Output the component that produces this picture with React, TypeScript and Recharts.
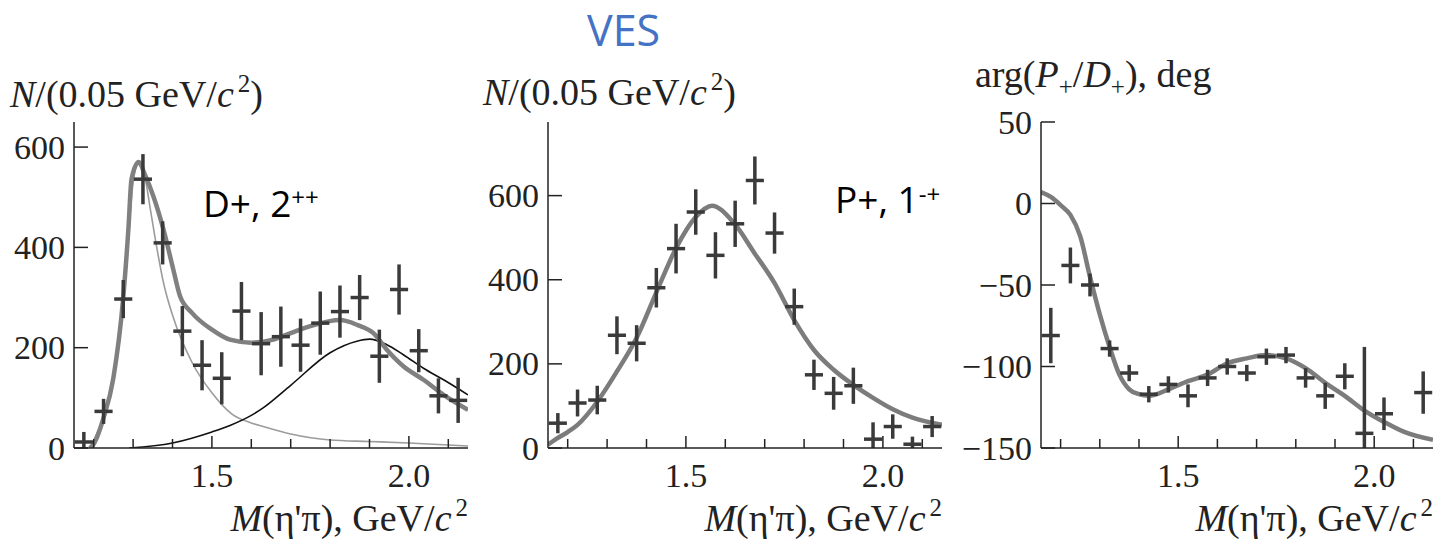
import React from 'react';
import { ComposedChart, Line, Scatter, XAxis, YAxis, ErrorBar } from 'recharts';

// ---------- shared axis values ----------
const massBins = [1.175, 1.225, 1.275, 1.325, 1.375, 1.425, 1.475, 1.525, 1.575, 1.625, 1.675, 1.725, 1.775, 1.825, 1.875, 1.925, 1.975, 2.025, 2.075, 2.125];
const massTicks = [1.2, 1.3, 1.4, 1.5, 1.6, 1.7, 1.8, 1.9, 2.0, 2.1];
const massTickLabels = [1.5, 2.0];
const countTicks = [0, 200, 400, 600];
const phaseTicks = [-150, -100, -50, 0, 50];
const binHalfWidth = 0.023;

// ---------- panel 1: D+, 2++ ----------
const dCounts = [12, 73, 297, 536, 409, 233, 165, 139, 273, 208, 222, 205, 249, 272, 300, 183, 316, 194, 104, 95];
const dErrLo = [12, 25, 38, 50, 43, 50, 50, 52, 58, 63, 60, 53, 63, 52, 45, 53, 50, 43, 35, 45];
const dErrHi = [20, 25, 38, 50, 43, 50, 50, 52, 58, 63, 60, 53, 63, 52, 45, 53, 50, 43, 35, 45];

const dFitMass = [1.19, 1.2, 1.225, 1.25, 1.275, 1.288, 1.296, 1.314, 1.33, 1.351, 1.377, 1.402, 1.419, 1.45, 1.5, 1.546, 1.6, 1.65, 1.7, 1.75, 1.825, 1.87, 1.91, 1.944, 1.986, 2.037, 2.088, 2.15];
const dFitTotal = [0, 8, 60, 140, 300, 436, 536, 570, 545, 503, 436, 356, 303, 269, 236, 216, 210, 215, 229, 243, 255, 245, 229, 196, 163, 136, 106, 76];

const a2LowMass = [1.19, 1.2, 1.225, 1.25, 1.275, 1.29, 1.3, 1.314, 1.33, 1.343, 1.36, 1.377, 1.4, 1.45, 1.5, 1.55, 1.6, 1.63, 1.7, 1.8, 1.9, 2.0, 2.15];
const a2LowCurve = [0, 15, 65, 140, 300, 440, 530, 568, 540, 480, 400, 330, 265, 170, 110, 68, 50, 43, 28, 16, 13, 10, 4];

const a2HighMass = [1.29, 1.4, 1.5, 1.546, 1.6, 1.63, 1.7, 1.8, 1.868, 1.9, 1.944, 1.986, 2.037, 2.088, 2.15];
const a2HighCurve = [0, 10, 32, 45, 65, 80, 125, 190, 213, 217, 206, 186, 159, 136, 106];

// ---------- panel 2: P+, 1-+ ----------
const pCounts = [59, 107, 114, 268, 249, 381, 474, 561, 458, 533, 636, 511, 336, 174, 130, 148, 21, 51, 9, 51];
const pErrLo = [24, 32, 34, 45, 43, 47, 59, 54, 55, 55, 57, 49, 43, 36, 39, 43, 21, 29, 9, 25];
const pErrHi = [24, 32, 34, 45, 43, 47, 59, 54, 55, 55, 57, 49, 43, 36, 39, 43, 40, 29, 18, 25];

const pFitMass = [1.15, 1.175, 1.2, 1.225, 1.275, 1.325, 1.375, 1.425, 1.475, 1.525, 1.566, 1.62, 1.675, 1.725, 1.775, 1.825, 1.875, 1.925, 1.975, 2.025, 2.075, 2.15];
const pFitCurve = [8, 24, 38, 55, 110, 182, 262, 370, 475, 549, 576, 537, 462, 392, 304, 233, 186, 150, 119, 92, 72, 55];

// ---------- panel 3: phase ----------
const phase = [-81, -38, -50, -89, -104, -117, -111, -118, -107, -100, -104, -94, -93, -107, -118, -106, -141, -129, null, -116];
const phaseErrLo = [17, 11, 7, 5, 5, 5, 5, 7, 5, 5, 5, 5, 5, 6, 8, 8, 9, 10, 0, 13];
const phaseErrHi = [17, 11, 7, 5, 5, 5, 5, 7, 5, 5, 5, 5, 5, 6, 8, 8, 53, 10, 0, 13];

const phaseFitMass = [1.15, 1.175, 1.2, 1.225, 1.25, 1.275, 1.3, 1.325, 1.35, 1.375, 1.4, 1.425, 1.475, 1.525, 1.575, 1.625, 1.675, 1.725, 1.775, 1.825, 1.875, 1.925, 1.975, 2.025, 2.075, 2.15];
const phaseFit = [7, 4, -1, -7, -20, -45, -68, -88, -105, -114, -117, -118, -114, -109, -105, -98, -95, -93, -95, -101, -110, -118, -127, -134, -140, -145];

// ---------- builders ----------
const curve = (ms: number[], vs: number[]) => ms.map((m, i) => ({ m, v: vs[i] }));
const points = (vals: (number | null)[], lo: number[], hi: number[]) =>
  massBins
    .map((m, i) => ({ m, v: vals[i], ey: [lo[i], hi[i]], ex: binHalfWidth }))
    .filter((d) => d.v !== null);

const SERIF = "'Liberation Serif', 'Times New Roman', serif";
const SANS = "'Open Sans', sans-serif";
const INK = '#222';
const CROSS = '#3a3a3a';

const renderXTick = (props: any) => {
  const { x, y, payload } = props;
  const v = payload.value as number;
  const labeled = massTickLabels.some((t) => Math.abs(t - v) < 1e-6);
  return (
    <g>
      <line x1={x} y1={y} x2={x} y2={y - (labeled ? 12 : 9)} stroke={INK} strokeWidth={1.5} />
      {labeled && (
        <text x={x} y={y + 39} textAnchor="middle" fontFamily={SERIF} style={{ fontFamily: SERIF }} fontSize={34} fill={INK}>
          {v.toFixed(1)}
        </text>
      )}
    </g>
  );
};

const renderYTick = (props: any) => {
  const { x, y, payload } = props;
  const v = payload.value as number;
  return (
    <g>
      <line x1={x} y1={y} x2={x + 14} y2={y} stroke={INK} strokeWidth={1.5} />
      <text x={x - 9} y={y} textAnchor="end" dominantBaseline="central" fontFamily={SERIF} style={{ fontFamily: SERIF }} fontSize={34} fill={INK}>
        {String(v).replace('-', '\u2212')}
      </text>
    </g>
  );
};

const noShape = () => <g />;

type PanelProps = {
  left: number;
  width: number;
  yWidth: number;
  right: number;
  yDomain: [number, number];
  yTicks: number[];
  children: React.ReactNode;
};

const Panel = ({ left, width, yWidth, right, yDomain, yTicks, children }: PanelProps) => (
  <div style={{ position: 'absolute', left, top: 0 }}>
    <ComposedChart width={width} height={539} margin={{ top: 122, right, bottom: 0, left: 0 }}>
      <XAxis
        type="number"
        dataKey="m"
        domain={[1.15, 2.15]}
        allowDataOverflow
        ticks={massTicks}
        interval={0}
        height={91}
        tickSize={0}
        tickMargin={0}
        tickLine={false}
        axisLine={{ stroke: INK, strokeWidth: 1.5 }}
        tick={renderXTick}
      />
      <YAxis
        type="number"
        domain={yDomain}
        allowDataOverflow
        ticks={yTicks}
        interval={0}
        width={yWidth}
        tickSize={0}
        tickMargin={0}
        tickLine={false}
        axisLine={{ stroke: INK, strokeWidth: 1.5 }}
        tick={renderYTick}
      />
      {children}
    </ComposedChart>
  </div>
);

const crossSeries = (data: any[]) => (
  <Scatter data={data} dataKey="v" shape={noShape} isAnimationActive={false}>
    <ErrorBar dataKey="ey" direction="y" width={0} stroke={CROSS} strokeWidth={3.5} isAnimationActive={false} />
    <ErrorBar dataKey="ex" direction="x" width={0} stroke={CROSS} strokeWidth={3.5} isAnimationActive={false} />
  </Scatter>
);

export default function App() {
  return (
    <div style={{ position: 'absolute', left: 0, top: 0, width: 1439, height: 539, background: '#fff', overflow: 'hidden' }}>
      <Panel left={0} width={480} yWidth={74} right={12} yDomain={[0, 650]} yTicks={countTicks}>
        <Line data={curve(a2LowMass, a2LowCurve)} dataKey="v" type="monotone" stroke="#9c9c9c" strokeWidth={1.6} dot={false} activeDot={false} isAnimationActive={false} />
        <Line data={curve(a2HighMass, a2HighCurve)} dataKey="v" type="monotone" stroke="#111" strokeWidth={1.6} dot={false} activeDot={false} isAnimationActive={false} />
        <Line data={curve(dFitMass, dFitTotal)} dataKey="v" type="monotone" stroke="#808080" strokeWidth={4.5} dot={false} activeDot={false} isAnimationActive={false} />
        {crossSeries(points(dCounts, dErrLo, dErrHi))}
      </Panel>
      <Panel left={480} width={470} yWidth={68} right={8} yDomain={[0, 775]} yTicks={countTicks}>
        <Line data={curve(pFitMass, pFitCurve)} dataKey="v" type="monotone" stroke="#7c7c7c" strokeWidth={4.5} dot={false} activeDot={false} isAnimationActive={false} />
        {crossSeries(points(pCounts, pErrLo, pErrHi))}
      </Panel>
      <Panel left={940} width={499} yWidth={101} right={6} yDomain={[-150, 50]} yTicks={phaseTicks}>
        <Line data={curve(phaseFitMass, phaseFit)} dataKey="v" type="monotone" stroke="#7c7c7c" strokeWidth={4.5} dot={false} activeDot={false} isAnimationActive={false} />
        {crossSeries(points(phase, phaseErrLo, phaseErrHi))}
      </Panel>

      <svg width={1439} height={539} style={{ position: 'absolute', left: 0, top: 0, pointerEvents: 'none' }}>
        <text x={587} y={46} fontFamily={SANS} fontSize={43} fill="#4472C4">VES</text>
        <text x={203} y={217} fontFamily={SANS} fontSize={37} fill="#000">
          D+, 2<tspan fontSize={24} dy={-11}>++</tspan>
        </text>
        <text x={835} y={213} fontFamily={SANS} fontSize={37} fill="#000">
          P+, 1<tspan fontSize={24} dy={-10}>-+</tspan>
        </text>

        <text x={10} y={107} fontFamily={SERIF} fontSize={38} fill={INK}>
          <tspan fontStyle="italic">N</tspan>/(0.05 GeV/<tspan fontStyle="italic">c</tspan>
          <tspan fontSize={25} dx={4} dy={-15}>2</tspan>
          <tspan dy={15}>)</tspan>
        </text>
        <text x={483} y={105} fontFamily={SERIF} fontSize={38} fill={INK}>
          <tspan fontStyle="italic">N</tspan>/(0.05 GeV/<tspan fontStyle="italic">c</tspan>
          <tspan fontSize={25} dx={4} dy={-15}>2</tspan>
          <tspan dy={15}>)</tspan>
        </text>
        <text x={975} y={87} fontFamily={SERIF} fontSize={38} fill={INK}>
          arg(<tspan fontStyle="italic">P</tspan>
          <tspan fontSize={25} dy={8}>+</tspan>
          <tspan dy={-8}>/</tspan>
          <tspan fontStyle="italic">D</tspan>
          <tspan fontSize={25} dy={8}>+</tspan>
          <tspan dy={-8}>), deg</tspan>
        </text>

        {[468, 942, 1433].map((xr) => (
          <text key={xr} x={xr} y={531} textAnchor="end" fontFamily={SERIF} fontSize={38} fill={INK}>
            <tspan fontStyle="italic">M</tspan>(η'π), GeV/<tspan fontStyle="italic">c</tspan>
            <tspan fontSize={25} dx={4} dy={-15}>2</tspan>
          </text>
        ))}
      </svg>
    </div>
  );
}
